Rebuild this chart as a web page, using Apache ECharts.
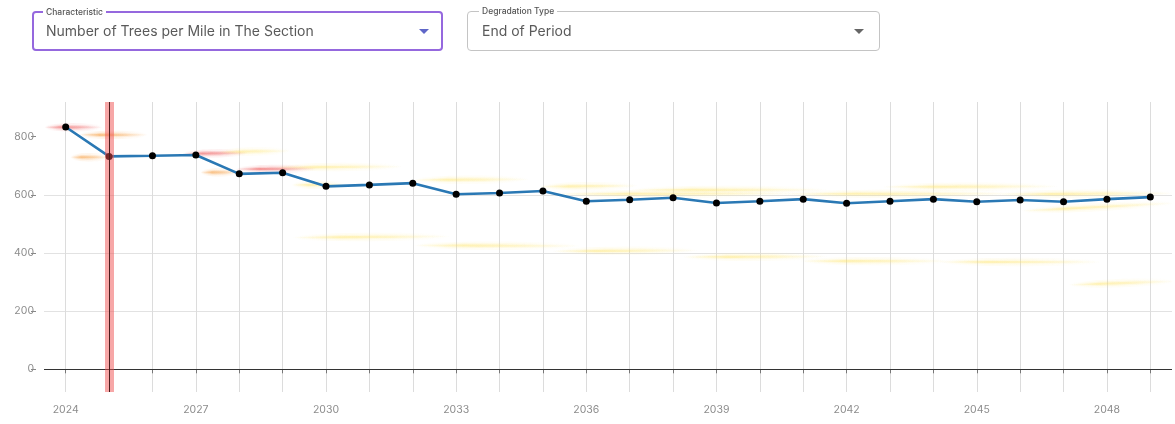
<!DOCTYPE html>
<html>
<head>
<meta charset="utf-8">
<script src="https://cdn.jsdelivr.net/npm/echarts@6/dist/echarts.min.js"></script>
<style>
  html, body { margin: 0; padding: 0; background: #fff; width: 1175px; height: 424px; overflow: hidden; font-family: Inter, "Noto Sans", sans-serif; }
  #chart { position: absolute; left: 0; top: 0; width: 1175px; height: 424px; }
  .select { position: absolute; top: 11px; height: 40px; box-sizing: border-box; border-radius: 4px; background: #fff; z-index: 2; }
  .select .lbl { position: absolute; top: -6px; padding: 0 3px; background: #fff; font-size: 8.5px; font-weight: 500; color: #555; line-height: 11px; white-space: nowrap; }
  .select .val { position: absolute; top: 0; font-size: 14px; color: #5a5a5a; white-space: nowrap; }
  .select .arrow { position: absolute; width: 0; height: 0; border-left: 5px solid transparent; border-right: 5px solid transparent; border-top: 5px solid #666; }
  #sel1 { left: 32px; width: 411px; border: 2px solid #9568de; }
  #sel1 .lbl { left: 9px; }
  #sel1 .val { left: 12px; line-height: 36px; }
  #sel1 .arrow { right: 12px; top: 16px; border-top-color: #5f66c8; }
  #sel2 { left: 467px; width: 413px; border: 1px solid #c4c4c4; }
  #sel2 .lbl { left: 11px; }
  #sel2 .val { left: 14px; line-height: 38px; }
  #sel2 .arrow { right: 15px; top: 17px; }
</style>
</head>
<body>
<div class="select" id="sel1"><span class="lbl">Characteristic</span><span class="val">Number of Trees per Mile in The Section</span><span class="arrow"></span></div>
<div class="select" id="sel2"><span class="lbl">Degradation Type</span><span class="val">End of Period</span><span class="arrow"></span></div>
<div id="chart"></div>
<script>
// Projected trees per mile, one value per year
const years = [2024, 2025, 2026, 2027, 2028, 2029, 2030, 2031, 2032, 2033, 2034, 2035, 2036,
               2037, 2038, 2039, 2040, 2041, 2042, 2043, 2044, 2045, 2046, 2047, 2048, 2049];
const treesPerMile = [833, 732, 734, 737, 672, 676, 629, 634, 640, 602, 606, 613, 578,
                      583, 590, 572, 578, 585, 571, 578, 585, 576, 582, 576, 585, 592];

// Axis ticks and labels
const yTickValues = [0, 200, 400, 600, 800];
const xLabelYears = [2024, 2027, 2030, 2033, 2036, 2039, 2042, 2045, 2048];

// Highlighted year
const markerYear = 2025;

// Faint trajectory streaks: [yearFrom, valueFrom, yearTo, valueTo]
const redStreaks = [
  [2023.5, 832, 2024.85, 832],
  [2026.7, 741, 2028.2, 744],
  [2027.9, 688, 2029.8, 690]
];
const orangeStreaks = [
  [2024.3, 806, 2025.9, 806],
  [2024.1, 729, 2025.0, 729],
  [2027.1, 677, 2028.0, 677]
];
const yellowStreaks = [
  [2027.5, 747, 2029.2, 751],
  [2028.8, 694, 2031.8, 697],
  [2029.2, 634, 2030.5, 634],
  [2032.0, 651, 2034.7, 653],
  [2034.9, 628, 2037.2, 631],
  [2029.2, 453, 2032.9, 457],
  [2032.0, 426, 2035.9, 424],
  [2035.2, 406, 2038.6, 409],
  [2038.2, 386, 2041.6, 388],
  [2040.9, 372, 2044.4, 372],
  [2044.1, 369, 2047.9, 369],
  [2047.1, 290, 2049.6, 303],
  [2037.0, 617, 2041.6, 617],
  [2035.2, 603, 2041.0, 604],
  [2040.5, 603, 2046.0, 604],
  [2045.5, 602, 2049.6, 605],
  [2042.8, 627, 2046.9, 629],
  [2046.0, 544, 2049.6, 572]
];

const tones = [
  { rgb: '235,75,75', alpha: 0.4 },
  { rgb: '245,150,50', alpha: 0.4 },
  { rgb: '255,225,90', alpha: 0.3 }
];

const hazeData = []
  .concat(redStreaks.map(s => s.concat(0)))
  .concat(orangeStreaks.map(s => s.concat(1)))
  .concat(yellowStreaks.map(s => s.concat(2)));

// Each streak: three stacked tapered bands, fading towards both ends
function renderStreak(params, api) {
  const p0 = api.coord([api.value(0), api.value(1)]);
  const p1 = api.coord([api.value(2), api.value(3)]);
  const tone = tones[api.value(4)];
  const dx = p1[0] - p0[0], dy = p1[1] - p0[1];
  const len = Math.sqrt(dx * dx + dy * dy) || 1;
  const nx = -dy / len, ny = dx / len;
  const layers = [[1.1, 1], [2.4, 0.5], [4.2, 0.25]];
  const children = layers.map(([h, k]) => {
    const top = [], bottom = [];
    const steps = 16;
    for (let i = 0; i <= steps; i++) {
      const t = i / steps;
      const w = h * Math.pow(Math.sin(Math.PI * t), 0.4);
      const x = p0[0] + dx * t, y = p0[1] + dy * t;
      top.push([x + nx * w, y + ny * w]);
      bottom.unshift([x - nx * w, y - ny * w]);
    }
    const a = tone.alpha * k;
    return {
      type: 'polygon',
      shape: { points: top.concat(bottom) },
      style: {
        fill: new echarts.graphic.LinearGradient(p0[0], p0[1], p1[0], p1[1], [
          { offset: 0, color: 'rgba(' + tone.rgb + ',0)' },
          { offset: 0.3, color: 'rgba(' + tone.rgb + ',' + a + ')' },
          { offset: 0.6, color: 'rgba(' + tone.rgb + ',' + (a * 0.7) + ')' },
          { offset: 1, color: 'rgba(' + tone.rgb + ',0)' }
        ], true)
      }
    };
  });
  return { type: 'group', children: children };
}

const chart = echarts.init(document.getElementById('chart'), null, { renderer: 'canvas' });
const labelFont = { color: '#8c8c8c', fontSize: 10.5, fontFamily: 'Inter' };

chart.setOption({
  animation: false,
  grid: { left: 44, right: 3, top: 102, bottom: 32, containLabel: false },
  xAxis: {
    type: 'value',
    min: 2023.5,
    max: 2049.5,
    offset: 8,
    axisLine: { show: false },
    axisTick: { show: true, length: 4, customValues: years, lineStyle: { color: '#777' } },
    axisLabel: Object.assign({ customValues: xLabelYears, margin: 4, formatter: v => String(v) }, labelFont),
    splitLine: { show: true, lineStyle: { color: '#dcdcdc', width: 1 } }
  },
  yAxis: {
    type: 'value',
    min: -78,
    max: 919,
    offset: 8,
    axisLine: { show: false },
    axisTick: { show: true, length: 5, customValues: yTickValues, lineStyle: { color: '#888' } },
    axisLabel: Object.assign({ customValues: yTickValues, margin: 2, formatter: v => String(v) }, labelFont),
    splitLine: { show: true, showMinLine: false, showMaxLine: false, lineStyle: { color: '#e2e2e2', width: 1 } }
  },
  series: [
    {
      type: 'custom',
      name: 'haze',
      renderItem: renderStreak,
      data: hazeData,
      clip: true,
      silent: true,
      z: 1
    },
    {
      type: 'line',
      name: 'Trees per mile',
      data: years.map((y, i) => [y, treesPerMile[i]]),
      symbol: 'circle',
      symbolSize: 7,
      itemStyle: { color: '#000' },
      lineStyle: { color: '#2a78b4', width: 2.6 },
      z: 3,
      markLine: {
        silent: true,
        symbol: 'none',
        label: { show: false },
        lineStyle: { color: '#333', width: 1, type: 'solid' },
        data: [{ yAxis: 0 }]
      }
    },
    {
      type: 'line',
      name: 'marker',
      data: [],
      z: 5,
      markLine: {
        silent: true,
        symbol: 'none',
        label: { show: false },
        data: [
          { xAxis: markerYear, lineStyle: { color: 'rgba(240,80,80,0.5)', width: 9, type: 'solid' } },
          { xAxis: markerYear, lineStyle: { color: '#4a1c1c', width: 1, type: 'solid' } }
        ]
      }
    }
  ]
});
</script>
</body>
</html>
